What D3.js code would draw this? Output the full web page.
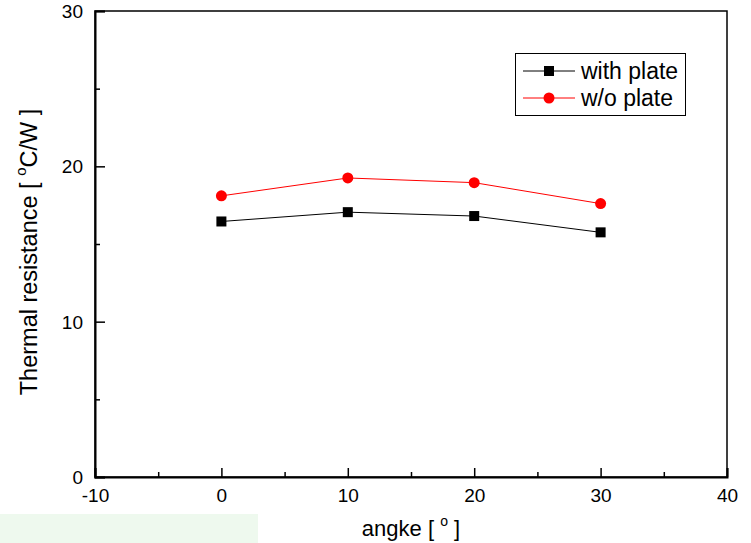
<!DOCTYPE html>
<html>
<head>
<meta charset="utf-8">
<script src="https://cdn.jsdelivr.net/npm/d3@7"></script>
<style>
  body { margin: 0; background: #fff; }
  svg { display: block; font-family: Arial, "Liberation Sans", sans-serif; }
</style>
</head>
<body>
<div id="chart"></div>
<script>
// data
const angles = [0, 10, 20, 30];
const withPlate = [16.45, 17.05, 16.8, 15.75];
const withoutPlate = [18.1, 19.25, 18.95, 17.6];
const xTicks = [-10, 0, 10, 20, 30, 40];
const yTicks = [0, 10, 20, 30];

const width = 751, height = 543;
const margin = { left: 95, right: 24, top: 11, bottom: 66 };

const svg = d3.select("#chart").append("svg")
    .attr("width", width)
    .attr("height", height);

// light green strip at bottom left
svg.append("rect")
    .attr("x", 0).attr("y", 514)
    .attr("width", 258).attr("height", 29)
    .attr("fill", "#eef9ee");

const x = d3.scaleLinear().domain([-10, 40]).range([margin.left, width - margin.right]);
const y = d3.scaleLinear().domain([0, 30]).range([height - margin.bottom, margin.top]);

// frame
svg.append("rect")
    .attr("x", x(-10)).attr("y", y(30))
    .attr("width", x(40) - x(-10)).attr("height", y(0) - y(30))
    .attr("fill", "none")
    .attr("stroke", "#000")
    .attr("stroke-width", 1.5);

// x axis (ticks inward)
const xAxis = svg.append("g")
    .attr("transform", `translate(0,${y(0)})`)
    .call(d3.axisBottom(x).tickValues(xTicks).tickSize(-9).tickPadding(12).tickFormat(d => String(d)));
xAxis.selectAll("line").attr("stroke-width", 1.5);
xAxis.select(".domain").attr("stroke-width", 2);

svg.append("g")
    .attr("transform", `translate(0,${y(0)})`)
    .call(d3.axisBottom(x).tickValues([-5, 5, 15, 25, 35]).tickSize(-5).tickFormat(""))
    .call(g => g.select(".domain").remove())
    .selectAll("line").attr("stroke-width", 1.5);

// y axis
const yAxis = svg.append("g")
    .attr("transform", `translate(${x(-10)},0)`)
    .call(d3.axisLeft(y).tickValues(yTicks).tickSize(-10).tickPadding(12).tickFormat(d => String(d)));
yAxis.selectAll("line").attr("stroke-width", 1.5);
yAxis.select(".domain").attr("stroke-width", 2);

svg.append("g")
    .attr("transform", `translate(${x(-10)},0)`)
    .call(d3.axisLeft(y).tickValues([5, 15, 25]).tickSize(-5).tickFormat(""))
    .call(g => g.select(".domain").remove())
    .selectAll("line").attr("stroke-width", 1.5);

svg.selectAll(".tick text")
    .attr("font-size", 19)
    .attr("font-family", "Arial, 'Liberation Sans', sans-serif")
    .attr("fill", "#000");
yAxis.selectAll(".tick text").attr("dy", "0.35em");

// axis titles
const xt = svg.append("text")
    .attr("x", 411).attr("y", 536)
    .attr("text-anchor", "middle")
    .attr("font-size", 22);
xt.append("tspan").text("angke [ ");
xt.append("tspan").attr("font-size", 14).attr("dy", -10).text("o");
xt.append("tspan").attr("dy", 10).text(" ]");

const yt = svg.append("text")
    .attr("transform", "translate(37,252) rotate(-90)")
    .attr("text-anchor", "middle")
    .attr("font-size", 23.5);
yt.append("tspan").text("Thermal resistance [ ");
yt.append("tspan").attr("font-size", 15).attr("dy", -11).text("o");
yt.append("tspan").attr("dy", 11).text("C/W ]");

// series
const line = d3.line().x(d => x(d[0])).y(d => y(d[1]));
const black = angles.map((a, i) => [a, withPlate[i]]);
const red = angles.map((a, i) => [a, withoutPlate[i]]);

svg.append("path").datum(black)
    .attr("d", line).attr("fill", "none").attr("stroke", "#000").attr("stroke-width", 1);
svg.append("path").datum(red)
    .attr("d", line).attr("fill", "none").attr("stroke", "red").attr("stroke-width", 1);

svg.selectAll("rect.sq").data(black).enter().append("rect")
    .attr("class", "sq")
    .attr("x", d => x(d[0]) - 5).attr("y", d => y(d[1]) - 5)
    .attr("width", 10).attr("height", 10)
    .attr("fill", "#000");

svg.selectAll("circle.dot").data(red).enter().append("circle")
    .attr("class", "dot")
    .attr("cx", d => x(d[0])).attr("cy", d => y(d[1]))
    .attr("r", 5.5)
    .attr("fill", "red");

// legend
const lg = svg.append("g");
lg.append("rect")
    .attr("x", 515.5).attr("y", 53.5).attr("width", 170).attr("height", 62)
    .attr("fill", "#fff").attr("stroke", "#000").attr("stroke-width", 1);

const legendItems = [
    { name: "with plate", color: "#000", shape: "square", y: 71 },
    { name: "w/o plate", color: "red", shape: "circle", y: 98 }
];
legendItems.forEach(it => {
    lg.append("line")
        .attr("x1", 523).attr("x2", 575).attr("y1", it.y).attr("y2", it.y)
        .attr("stroke", it.color).attr("stroke-width", 1);
    if (it.shape === "square") {
        lg.append("rect").attr("x", 544).attr("y", it.y - 5).attr("width", 10).attr("height", 10).attr("fill", it.color);
    } else {
        lg.append("circle").attr("cx", 549).attr("cy", it.y).attr("r", 5.5).attr("fill", it.color);
    }
    lg.append("text")
        .attr("x", 581).attr("y", it.y + 8)
        .attr("font-size", 23)
        .attr("fill", "#000")
        .text(it.name);
});
</script>
</body>
</html>
